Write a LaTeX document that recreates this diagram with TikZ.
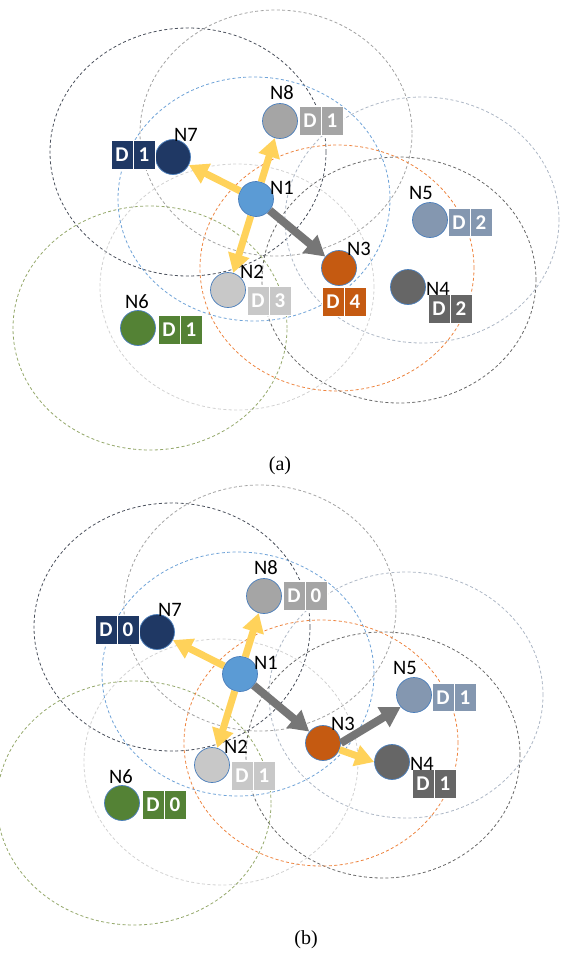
\documentclass[tikz,border=0pt]{standalone}
\usepackage{fontspec}
\setmainfont{Carlito}
\newfontfamily\capfont{Liberation Serif}
\usetikzlibrary{arrows.meta}

% node fills
\definecolor{fillA}{HTML}{5B9BD5}
\definecolor{fillB}{HTML}{C8C8C8}
\definecolor{fillC}{HTML}{C55A11}
\definecolor{fillD}{HTML}{666666}
\definecolor{fillE}{HTML}{8497B0}
\definecolor{fillF}{HTML}{548235}
\definecolor{fillG}{HTML}{1F3864}
\definecolor{fillH}{HTML}{A5A5A5}
\definecolor{nodeedge}{HTML}{4A7EBB}
% transmission ranges
\definecolor{rngA}{HTML}{6FA3D8}
\definecolor{rngB}{HTML}{D2D2D2}
\definecolor{rngC}{HTML}{EE8540}
\definecolor{rngD}{HTML}{6A6A6A}
\definecolor{rngE}{HTML}{AEB8C6}
\definecolor{rngF}{HTML}{94A86A}
\definecolor{rngG}{HTML}{4A505C}
\definecolor{rngH}{HTML}{A3A3A3}
% messages
\definecolor{msgyellow}{HTML}{FFD25A}
\definecolor{msggray}{HTML}{767676}

\tikzset{
  txrange/.style={dash pattern=on 3pt off 2.4pt, line width=0.8pt},
  sensor/.style={circle, minimum size=35pt, inner sep=0pt, draw=nodeedge, line width=0.7pt},
  cell/.style={rectangle, minimum width=22pt, minimum height=28.5pt, inner sep=0pt,
    draw=white, line width=0.9pt, text=white, font=\fontsize{21}{24}\selectfont\bfseries},
  lab/.style={inner sep=0pt, font=\fontsize{20.5}{24}\selectfont},
  bcast/.style={line width=7pt, draw=msgyellow, -{Triangle[length=19pt,width=21pt]}},
  fwd/.style={line width=8pt, draw=msggray, -{Triangle[length=20pt,width=22pt]}},
  capt/.style={inner sep=0pt, font=\capfont\fontsize{20}{24}\selectfont}
}

% two-cell counter box: name, left x, centre y, colour, value
\newcommand\dutybox[5]{%
  \node[cell, fill=#4] (#1d) at (#2+11,#3) {D};
  \node[cell, fill=#4] (#1v) at (#2+33,#3) {#5};
}

% one network: prefix, then values for N2, N4, N5, N6, N7, N8
\newcommand\meshpanel[7]{%
  \draw[txrange, draw=rngG] (188,152) ellipse [x radius=138pt, y radius=124pt];
  \draw[txrange, draw=rngH] (276,133) ellipse [x radius=136pt, y radius=123pt];
  \draw[txrange, draw=rngE] (422,220) ellipse [x radius=137pt, y radius=123pt];
  \draw[txrange, draw=rngD] (399,280) ellipse [x radius=137pt, y radius=123pt];
  \draw[txrange, draw=rngB] (237,287) ellipse [x radius=137pt, y radius=123pt];
  \draw[txrange, draw=rngF] (150,328) ellipse [x radius=137pt, y radius=122pt];
  \draw[txrange, draw=rngA] (254,199) ellipse [x radius=136pt, y radius=122pt];
  \draw[txrange, draw=rngC] (337,268) ellipse [x radius=137pt, y radius=123pt];
  %
  \node[sensor, fill=fillA] (#1n1) at (256,199) {};
  \node[sensor, fill=fillB] (#1n2) at (228,290) {};
  \node[sensor, fill=fillC] (#1n3) at (339,268) {};
  \node[sensor, fill=fillD] (#1n4) at (408,287) {};
  \node[sensor, fill=fillE] (#1n5) at (430,220) {};
  \node[sensor, fill=fillF] (#1n6) at (138,328) {};
  \node[sensor, fill=fillG] (#1n7) at (173,157) {};
  \node[sensor, fill=fillH] (#1n8) at (280,121) {};
  %
  \dutybox{#1b2}{247}{301}{fillB}{#2}
  \dutybox{#1b4}{428}{309}{fillD}{#3}
  \dutybox{#1b5}{448}{222.5}{fillE}{#4}
  \dutybox{#1b6}{158}{330}{fillF}{#5}
  \dutybox{#1b7}{111}{155}{fillG}{#6}
  \dutybox{#1b8}{299}{121}{fillH}{#7}
  %
  \draw[bcast] (#1n1) -- (#1n7);
  \draw[bcast] (#1n1) -- (#1n8);
  \draw[bcast] (#1n1) -- (#1n2);
  \draw[fwd] (#1n1) -- (#1n3);
}

% node names, drawn last so they stay on top
\newcommand\meshlabels[1]{%
  \node[lab] (#1l1) at (282,188) {N1};
  \node[lab] (#1l2) at (252,272) {N2};
  \node[lab] (#1l3) at (359,249) {N3};
  \node[lab] (#1l4) at (438,289) {N4};
  \node[lab] (#1l5) at (421,193) {N5};
  \node[lab] (#1l6) at (137,302) {N6};
  \node[lab] (#1l7) at (186,135) {N7};
  \node[lab] (#1l8) at (282,93) {N8};
}

\begin{document}
\begin{tikzpicture}[x=1pt, y=-1pt]
  \fill[white] (0,0) rectangle (562,954);
  \useasboundingbox (0,0) rectangle (562,954);

  % (a) N1 reaches its neighbours
  \meshpanel{a}{3}{2}{2}{1}{1}{1}
  \dutybox{ab3}{322}{302}{fillC}{4}
  \meshlabels{a}
  \node[capt] (capa) at (280,466) {(a)};

  % (b) N3 forwards further
  \begin{scope}[shift={(-16,475)}]
    \meshpanel{b}{1}{1}{1}{0}{0}{0}
    \draw[fwd] (bn3.east) -- (bn5.222);
    \draw[bcast] (bn3.-22) -- (bn4.west);
    \meshlabels{b}
  \end{scope}
  \node[capt] (capb) at (306,940) {(b)};
\end{tikzpicture}
\end{document}
